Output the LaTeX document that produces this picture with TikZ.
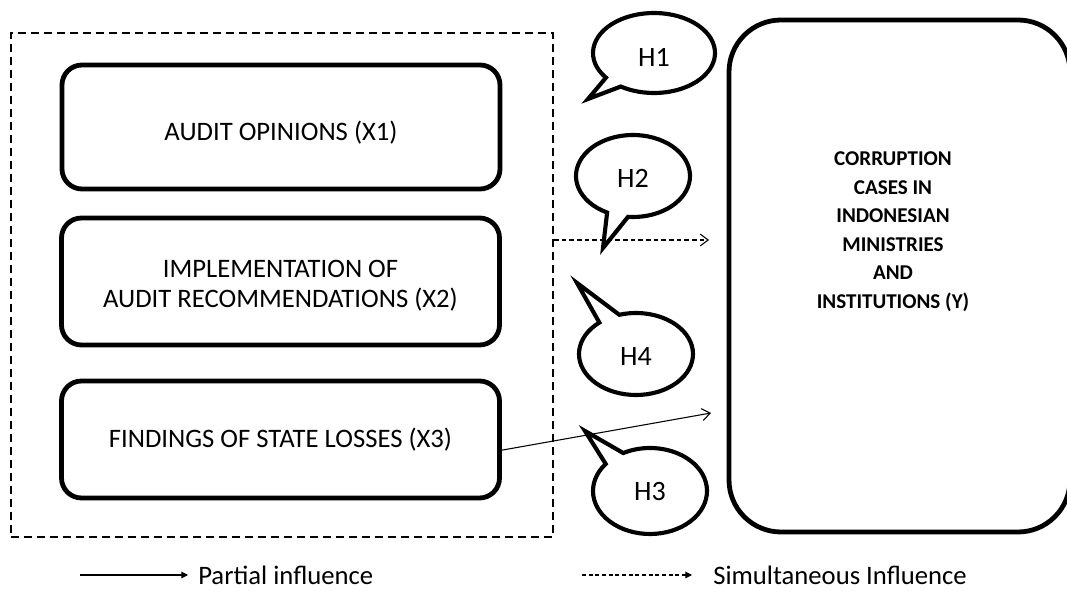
\documentclass[tikz,border=0pt]{standalone}
\usepackage{fontspec}
\setmainfont{Carlito}
\usetikzlibrary{arrows.meta,calc}
\begin{document}
\begin{tikzpicture}[x=0.75pt,y=0.75pt,
  varbox/.style={draw, line width=3.6pt, rounded corners=15pt, minimum width=328.5pt, inner sep=0pt},
  boxtext/.style={align=center, font=\fontsize{20}{22.5}\selectfont, inner sep=0pt},
  groupbox/.style={draw, line width=1.4pt, dash pattern=on 6pt off 3.75pt,
    minimum width=406.5pt, minimum height=378pt, inner sep=0pt},
  ybox/.style={draw, line width=3.6pt, rounded corners=39pt, minimum width=255.75pt,
    minimum height=384pt, inner sep=0pt},
  ytext/.style={align=center, font=\bfseries\fontsize{15.8}{21.4}\selectfont, inner sep=0pt},
  bubble/.style={draw, line width=3.1pt, line join=miter, fill=white},
  blabel/.style={font=\fontsize{21}{24}\selectfont, inner sep=0pt},
  openarrow/.style={-{Straight Barb[length=6pt,width=9pt,line width=0.8pt]}, line width=0.8pt},
  dashline/.style={dash pattern=on 3.5pt off 2.25pt},
  legarrow/.style={-{Triangle[length=5pt,width=5pt]}, line width=0.8pt},
  legtext/.style={anchor=west, inner sep=0pt, font=\fontsize{20}{22}\selectfont}]
\useasboundingbox (0,0) rectangle (1067,592);

% dashed group box
\node[groupbox] (group) at (282,307) {};

% variable boxes
\node[varbox, minimum height=93pt] (b1) at (281,465) {};
\node[varbox, minimum height=95.25pt] (b2) at (280.5,310.5) {};
\node[varbox, minimum height=87.75pt] (b3) at (280.5,152.5) {};
\node[boxtext] (t1) at ($(b1.center)+(0,-6)$) {AUDIT OPINIONS (X1)};
\node[boxtext] (t2) at ($(b2.center)+(0,-4)$) {IMPLEMENTATION OF\\AUDIT RECOMMENDATIONS (X2)};
\node[boxtext] (t3) at ($(b3.center)+(0,0)$) {FINDINGS OF STATE LOSSES (X3)};

% dependent variable
\node[ybox] (y) at (899.5,316) {};
\node[ytext] (yt) at (893,360.5) {CORRUPTION\\CASES IN\\INDONESIAN\\MINISTRIES\\AND\\INSTITUTIONS (Y)};

% arrows
\coordinate (dEnd) at (709,352);
\coordinate (sEnd) at (711,179);
\draw[openarrow, dashline] (group.east |- dEnd) -- (dEnd);
\draw[openarrow] ([yshift=-8pt]b3.east) -- (sEnd);

% speech bubbles
\path[bubble] ($(654,539)+(237:61 and 40)$) -- (588,493) -- ($(654,539)+(218:61 and 40)$)
  arc[start angle=218, end angle=-123, x radius=61, y radius=40] -- cycle;
\node[blabel] (h1) at (654,535) {H1};

\path[bubble] ($(633,416)+(265:57 and 41)$) -- (603,344) -- ($(633,416)+(243:57 and 41)$)
  arc[start angle=243, end angle=-95, x radius=57, y radius=41] -- cycle;
\node[blabel] (h2) at (633,414) {H2};

\path[bubble] ($(636,238)+(107:57 and 41)$) -- (577,309) -- ($(636,238)+(130:57 and 41)$)
  arc[start angle=130, end angle=467, x radius=57, y radius=41] -- cycle;
\node[blabel] (h4) at (636,235) {H4};

\path[bubble] ($(650,101)+(118:57 and 43)$) -- (585,161) -- ($(650,101)+(141:57 and 43)$)
  arc[start angle=141, end angle=478, x radius=57, y radius=43] -- cycle;
\node[blabel] (h3) at (650,100) {H3};

% legend
\coordinate (l1a) at (80,17);
\coordinate (l1b) at (188,17);
\draw[legarrow] (l1a) -- (l1b);
\node[legtext] (lp) at (198,17) {Partial influence};
\coordinate (l2a) at (582,17);
\coordinate (l2b) at (692,17);
\draw[legarrow, dash pattern=on 3pt off 2pt] (l2a) -- (l2b);
\node[legtext] (ls) at (713,17) {Simultaneous Influence};
\end{tikzpicture}
\end{document}
